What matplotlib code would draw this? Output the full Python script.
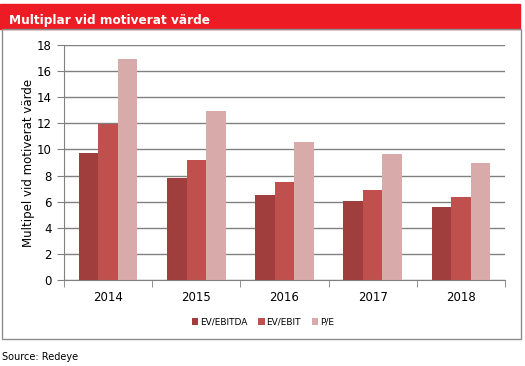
import matplotlib.pyplot as plt
import matplotlib.patches as patches
import numpy as np

years = ["2014", "2015", "2016", "2017", "2018"]
ev_ebitda = [9.75, 7.78, 6.51, 6.05, 5.61]
ev_ebit = [11.95, 9.19, 7.5, 6.87, 6.38]
pe = [16.9, 12.94, 10.54, 9.62, 8.93]
series_names = ["EV/EBITDA", "EV/EBIT", "P/E"]
colors = ["#a03d3d", "#c0504d", "#d9aaaa"]

W, H = 525, 366
fig = plt.figure(figsize=(W / 100, H / 100), dpi=100)
plt.rcParams['font.family'] = ['DejaVu Sans']

# header bar and frame
fig.patches.append(patches.Rectangle((0, 1 - 29 / H), 520 / W, 25 / H,
                                     transform=fig.transFigure, color="#ed1c24", zorder=0))
fig.patches.append(patches.Rectangle((2 / W, 1 - 339 / H), 519 / W, 310 / H,
                                     transform=fig.transFigure, fill=False,
                                     edgecolor="#8c8c8c", lw=1, zorder=0))
fig.text(9 / W, 1 - 20.5 / H, "Multiplar vid motiverat värde", color="white",
         fontsize=8.7, fontweight="bold", va="center", ha="left")
fig.text(2 / W, 1 - 357 / H, "Source: Redeye", fontsize=7, va="center", ha="left")

ax = fig.add_axes([64 / W, 1 - 280 / H, 441 / W, 235 / H])
x = np.arange(len(years))
w = 0.222
for i, (vals, name) in enumerate(zip([ev_ebitda, ev_ebit, pe], series_names)):
    ax.bar(x + (i - 1) * w, vals, w, color=colors[i], label=name, zorder=2)

ax.set_xlim(-0.5, len(years) - 0.5)
ax.set_ylim(0, 18)
ax.set_yticks(range(0, 19, 2))
ax.yaxis.grid(True, color="#808080", lw=1, zorder=0)
ax.set_xticks(x)
ax.set_xticklabels(years, fontsize=8.5)
ax.set_xticks(np.arange(-0.5, len(years)), minor=True)
ax.tick_params(axis="x", which="major", length=0, pad=8)
ax.tick_params(axis="x", which="minor", length=5, color="#808080")
ax.tick_params(axis="y", length=5, color="#808080", labelsize=8.5, pad=4)
for s in ["top", "right"]:
    ax.spines[s].set_visible(False)
for s in ["left", "bottom"]:
    ax.spines[s].set_color("#808080")
ax.set_ylabel("Multipel vid motiverat värde", fontsize=8.5, labelpad=1)

fig.legend(loc="center", bbox_to_anchor=(263 / W, 1 - 322 / H), ncol=3, frameon=False,
           fontsize=6.5, handlelength=0.7, handleheight=0.7, handletextpad=0.2,
           columnspacing=1.2)

fig.savefig("out.png", dpi=100)
